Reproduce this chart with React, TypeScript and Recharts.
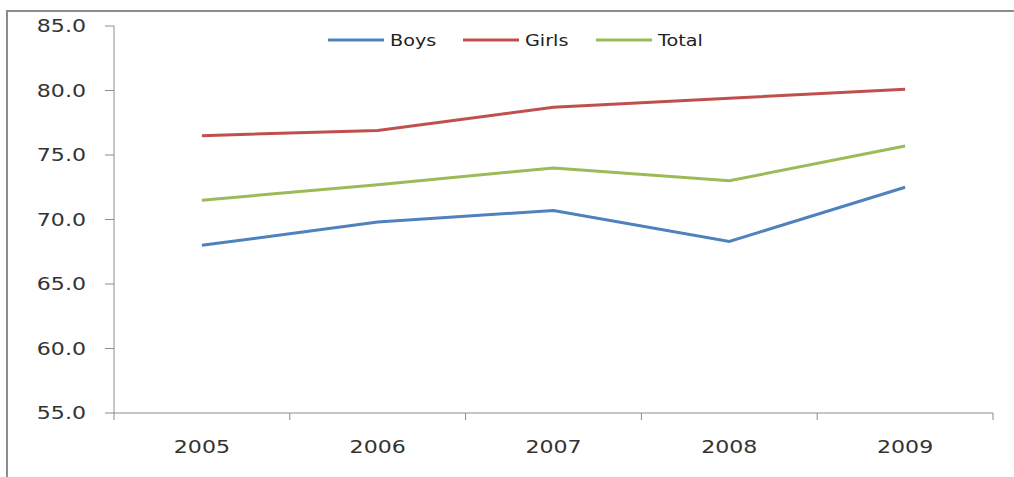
import { LineChart, Line, XAxis, YAxis, Legend } from "recharts";

const years = ["2005", "2006", "2007", "2008", "2009"];
const boys = [68.0, 69.8, 70.7, 68.3, 72.5];
const girls = [76.5, 76.9, 78.7, 79.4, 80.1];
const total = [71.5, 72.7, 74.0, 73.0, 75.7];
const yTicks = [55, 60, 65, 70, 75, 80, 85];

const series = [
  { key: "Boys", color: "#4F81BD" },
  { key: "Girls", color: "#C0504D" },
  { key: "Total", color: "#9BBB59" },
];

const data = years.map((year, i) => ({
  year,
  Boys: boys[i],
  Girls: girls[i],
  Total: total[i],
}));

const FONT = "'DejaVu Sans', Verdana, sans-serif";
const STRETCH = 1.3;
const AXIS = "#8c8c8c";

const YTick = (props: any) => {
  const { x, y, payload } = props;
  return (
    <text
      transform={`translate(${x}, ${y}) scale(${STRETCH}, 1)`}
      textAnchor="end"
      dy="0.36em"
      fontFamily={FONT}
      fontSize={17}
      fill="#333"
    >
      {Number(payload.value).toFixed(1)}
    </text>
  );
};

const XTick = (props: any) => {
  const { x, y, payload, index, width, visibleTicksCount } = props;
  const bw = width / visibleTicksCount;
  const axisY = y - 34;
  return (
    <g>
      <line x1={x - bw / 2} x2={x - bw / 2} y1={axisY} y2={axisY + 7} stroke={AXIS} />
      {index === visibleTicksCount - 1 && (
        <line x1={x + bw / 2} x2={x + bw / 2} y1={axisY} y2={axisY + 7} stroke={AXIS} />
      )}
      <text
        transform={`translate(${x}, ${y}) scale(${STRETCH}, 1)`}
        textAnchor="middle"
        dy="0.36em"
        fontFamily={FONT}
        fontSize={17}
        fill="#333"
      >
        {payload.value}
      </text>
    </g>
  );
};

// legend item start positions (line start, px)
const legendX = [328, 463, 596];

const LegendContent = () => (
  <svg width={1014} height={26}>
    {series.map((s, i) => (
      <g key={s.key}>
        <line x1={legendX[i]} x2={legendX[i] + 56} y1={12} y2={12} stroke={s.color} strokeWidth={3} />
        <text
          transform={`translate(${legendX[i] + 62}, 12) scale(1.2, 1)`}
          dy="0.36em"
          fontFamily={FONT}
          fontSize={16}
          fill="#222"
        >
          {s.key}
        </text>
      </g>
    ))}
  </svg>
);

const App = () => {
  return (
    <div style={{ position: "absolute", left: 0, top: 0, width: 1014, height: 477, background: "#fff" }}>
      <div
        style={{
          position: "absolute",
          left: 6,
          top: 10,
          right: 0,
          bottom: 0,
          borderLeft: `2px solid ${AXIS}`,
          borderTop: `2px solid ${AXIS}`,
        }}
      />
      <LineChart width={1014} height={477} data={data} margin={{ top: 26, right: 21, left: 0, bottom: 0 }}>
        <XAxis
          dataKey="year"
          scale="band"
          height={64}
          tickLine={false}
          tickSize={8}
          tickMargin={26}
          stroke={AXIS}
          tick={<XTick />}
          interval={0}
        />
        <YAxis
          domain={[55, 85]}
          ticks={yTicks}
          width={114}
          tickSize={9}
          tickMargin={19}
          stroke={AXIS}
          tick={<YTick />}
          interval={0}
        />
        <Legend
          verticalAlign="middle"
          layout="horizontal"
          wrapperStyle={{ top: 28, left: 0, width: 1014, height: 26 }}
          content={<LegendContent />}
        />
        {series.map((s) => (
          <Line
            key={s.key}
            type="linear"
            dataKey={s.key}
            stroke={s.color}
            strokeWidth={3}
            dot={false}
            isAnimationActive={false}
          />
        ))}
      </LineChart>
    </div>
  );
};

export default App;
